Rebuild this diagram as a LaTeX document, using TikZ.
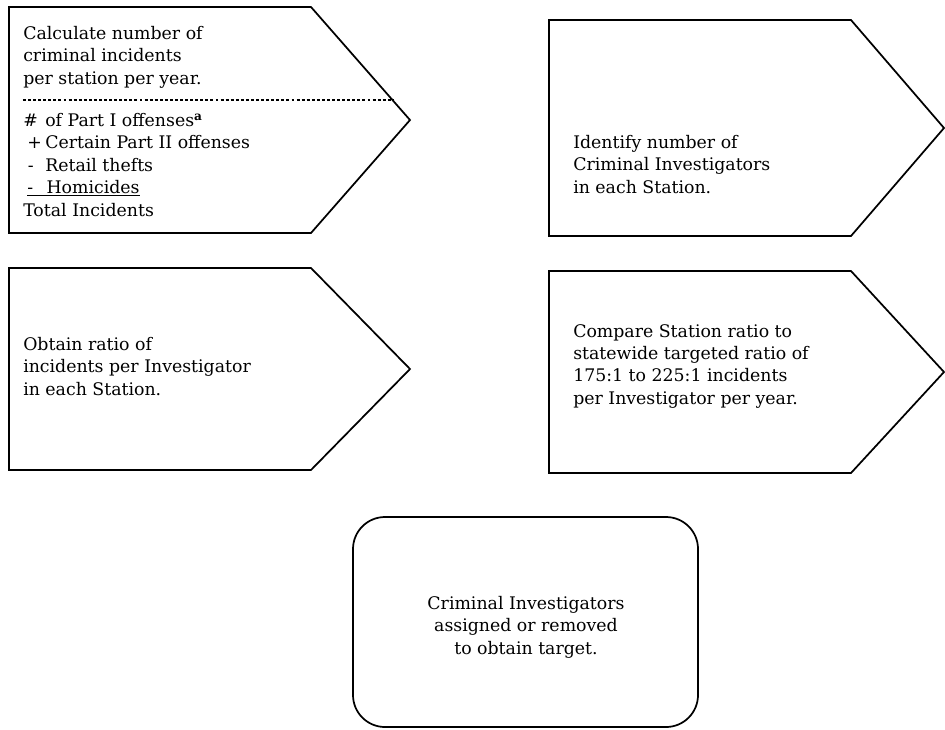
\documentclass[tikz,border=0pt]{standalone}
\usepackage{fontspec}
\setmainfont{DejaVu Serif}
\begin{document}
\begin{tikzpicture}[x=0.75pt,y=-0.75pt,
  panel/.style={draw=black, line width=1.3pt, line join=miter},
  divider/.style={draw=black, line width=1pt, dash pattern=on 2.2pt off 1.6pt},
  txt/.style={inner sep=0pt, anchor=north west, align=left,
    font=\fontsize{13}{16.8}\selectfont},
  ctxt/.style={txt, anchor=north, align=center},
]
\useasboundingbox (0,0) rectangle (945,729);

% step 1: count incidents
\draw[panel] (9,7) -- (311,7) -- (410,120) -- (311,233) -- (9,233) -- cycle;
\draw[divider] (23,100) -- (393,100);
\node[txt] (countHead) at (23,26) {Calculate number of\\criminal incidents\\per station per year.};
\node[txt] (countSum) at (23,113) {%
  \makebox[16.5pt][l]{\#}of Part I offenses\textsuperscript{\textbf{a}}\\
  \hspace{3pt}\makebox[13.5pt][l]{+}Certain Part II offenses\\
  \hspace{3.5pt}\makebox[13pt][l]{-}Retail thefts\\
  \hspace{3pt}\underline{\makebox[14.5pt][l]{-}Homicides}\\
  Total Incidents};

% step 2: staffing count
\draw[panel] (549,20) -- (851,20) -- (944,128) -- (851,236) -- (549,236) -- cycle;
\node[txt] (staff) at (573,135) {Identify number of\\Criminal Investigators\\in each Station.};

% step 3: ratio
\draw[panel] (9,268) -- (311,268) -- (410,369) -- (311,470) -- (9,470) -- cycle;
\node[txt] (ratio) at (23,337) {Obtain ratio of\\incidents per Investigator\\in each Station.};

% step 4: comparison
\draw[panel] (549,271) -- (851,271) -- (944,372) -- (851,473) -- (549,473) -- cycle;
\node[txt] (compare) at (573,324) {Compare Station ratio to\\statewide targeted ratio of\\175:1 to 225:1 incidents\\per Investigator per year.};

% outcome
\draw[panel, rounded corners=24pt] (353,517) rectangle (698,727);
\node[ctxt] (outcome) at (526,596) {Criminal Investigators\\assigned or removed\\to obtain target.};
\end{tikzpicture}
\end{document}
